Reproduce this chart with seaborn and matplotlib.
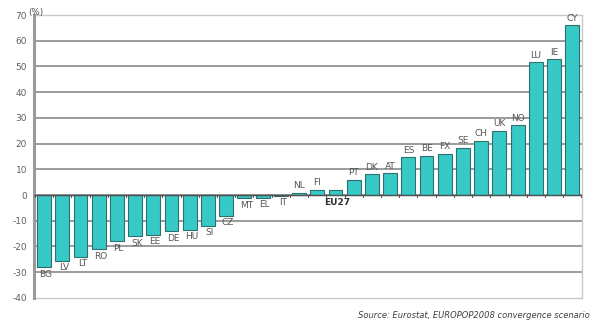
import matplotlib
matplotlib.use("Agg")
import matplotlib.pyplot as plt
import seaborn as sns
import pandas as pd

countries = ["BG", "LV", "LT", "RO", "PL", "SK", "EE", "DE", "HU", "SI",
             "CZ", "MT", "EL", "IT", "NL", "FI", "EU27", "PT", "DK", "AT",
             "ES", "BE", "FX", "SE", "CH", "UK", "NO", "LU", "IE", "CY"]
change_pct = [-28.0, -25.6, -24.0, -21.0, -18.0, -16.0, -15.5, -14.0, -13.5, -12.0,
              -8.0, -1.3, -1.0, -0.2, 0.8, 2.0, 1.8, 6.0, 8.0, 8.5,
              14.7, 15.2, 16.0, 18.3, 21.0, 25.0, 27.2, 51.6, 52.8, 66.0]
y_ticks = [70, 60, 50, 40, 30, 20, 10, 0, -10, -20, -30, -40]

df = pd.DataFrame({"country": countries, "change": change_pct})

sns.set_style("white")
plt.rcParams["font.family"] = ["DejaVu Sans"]

fig = plt.figure(figsize=(5.96, 3.27), dpi=100)
ax = fig.add_axes([0.057, 0.089, 0.92, 0.865])

for t in y_ticks:
    light = t in (70, -40)
    ax.axhline(t, color="#c8c8c8" if light else "#808080",
               lw=1.0 if light else 1.1, zorder=0, clip_on=False)

sns.barplot(data=df, x="country", y="change", color="#36c9c6",
            saturation=1, width=0.76, edgecolor="#2f6f6e", linewidth=0.8,
            ax=ax, zorder=2)

ax.set_ylim(-40, 70)
ax.set_xlim(-0.55, len(countries) - 0.45)
ax.set_yticks(y_ticks)
ax.set_yticklabels([str(t) for t in y_ticks], color="#606060", fontsize=6.5)
ax.tick_params(axis="y", length=3, width=0.8, color="#808080", pad=2)
ax.set_xticks([])
ax.set_xlabel("")
ax.set_ylabel("")

# zero line with category separator ticks
ax.axhline(0, color="#505050", lw=1.0, zorder=3)
for i in range(len(countries) + 1):
    ax.plot([i - 0.5, i - 0.5], [0, -0.9], color="#505050", lw=0.8, zorder=3)

for s in ["top", "bottom"]:
    ax.spines[s].set_visible(False)
ax.spines["left"].set_color("#9a9a9a")
ax.spines["left"].set_linewidth(2.2)
ax.spines["right"].set_color("#c8c8c8")
ax.spines["right"].set_linewidth(1.0)

for i, (c, v) in enumerate(zip(countries, change_pct)):
    bold = c == "EU27"
    if v > 0 and not bold:
        ax.text(i, v + 1.0, c, ha="center", va="bottom", fontsize=6.5,
                color="#555555")
    else:
        ax.text(i + 0.1, min(v, 0) - 1.0, c, ha="center", va="top",
                fontsize=6.5, color="#303030" if bold else "#555555",
                fontweight="bold" if bold else "normal")

fig.text(0.048, 0.975, "(%)", fontsize=6.3, color="#505050", ha="left", va="top")
fig.text(0.99, 0.035, "Source: Eurostat, EUROPOP2008 convergence scenario",
         fontsize=6, style="italic", color="#404040", ha="right", va="center")

fig.savefig("out.png", dpi=100)
